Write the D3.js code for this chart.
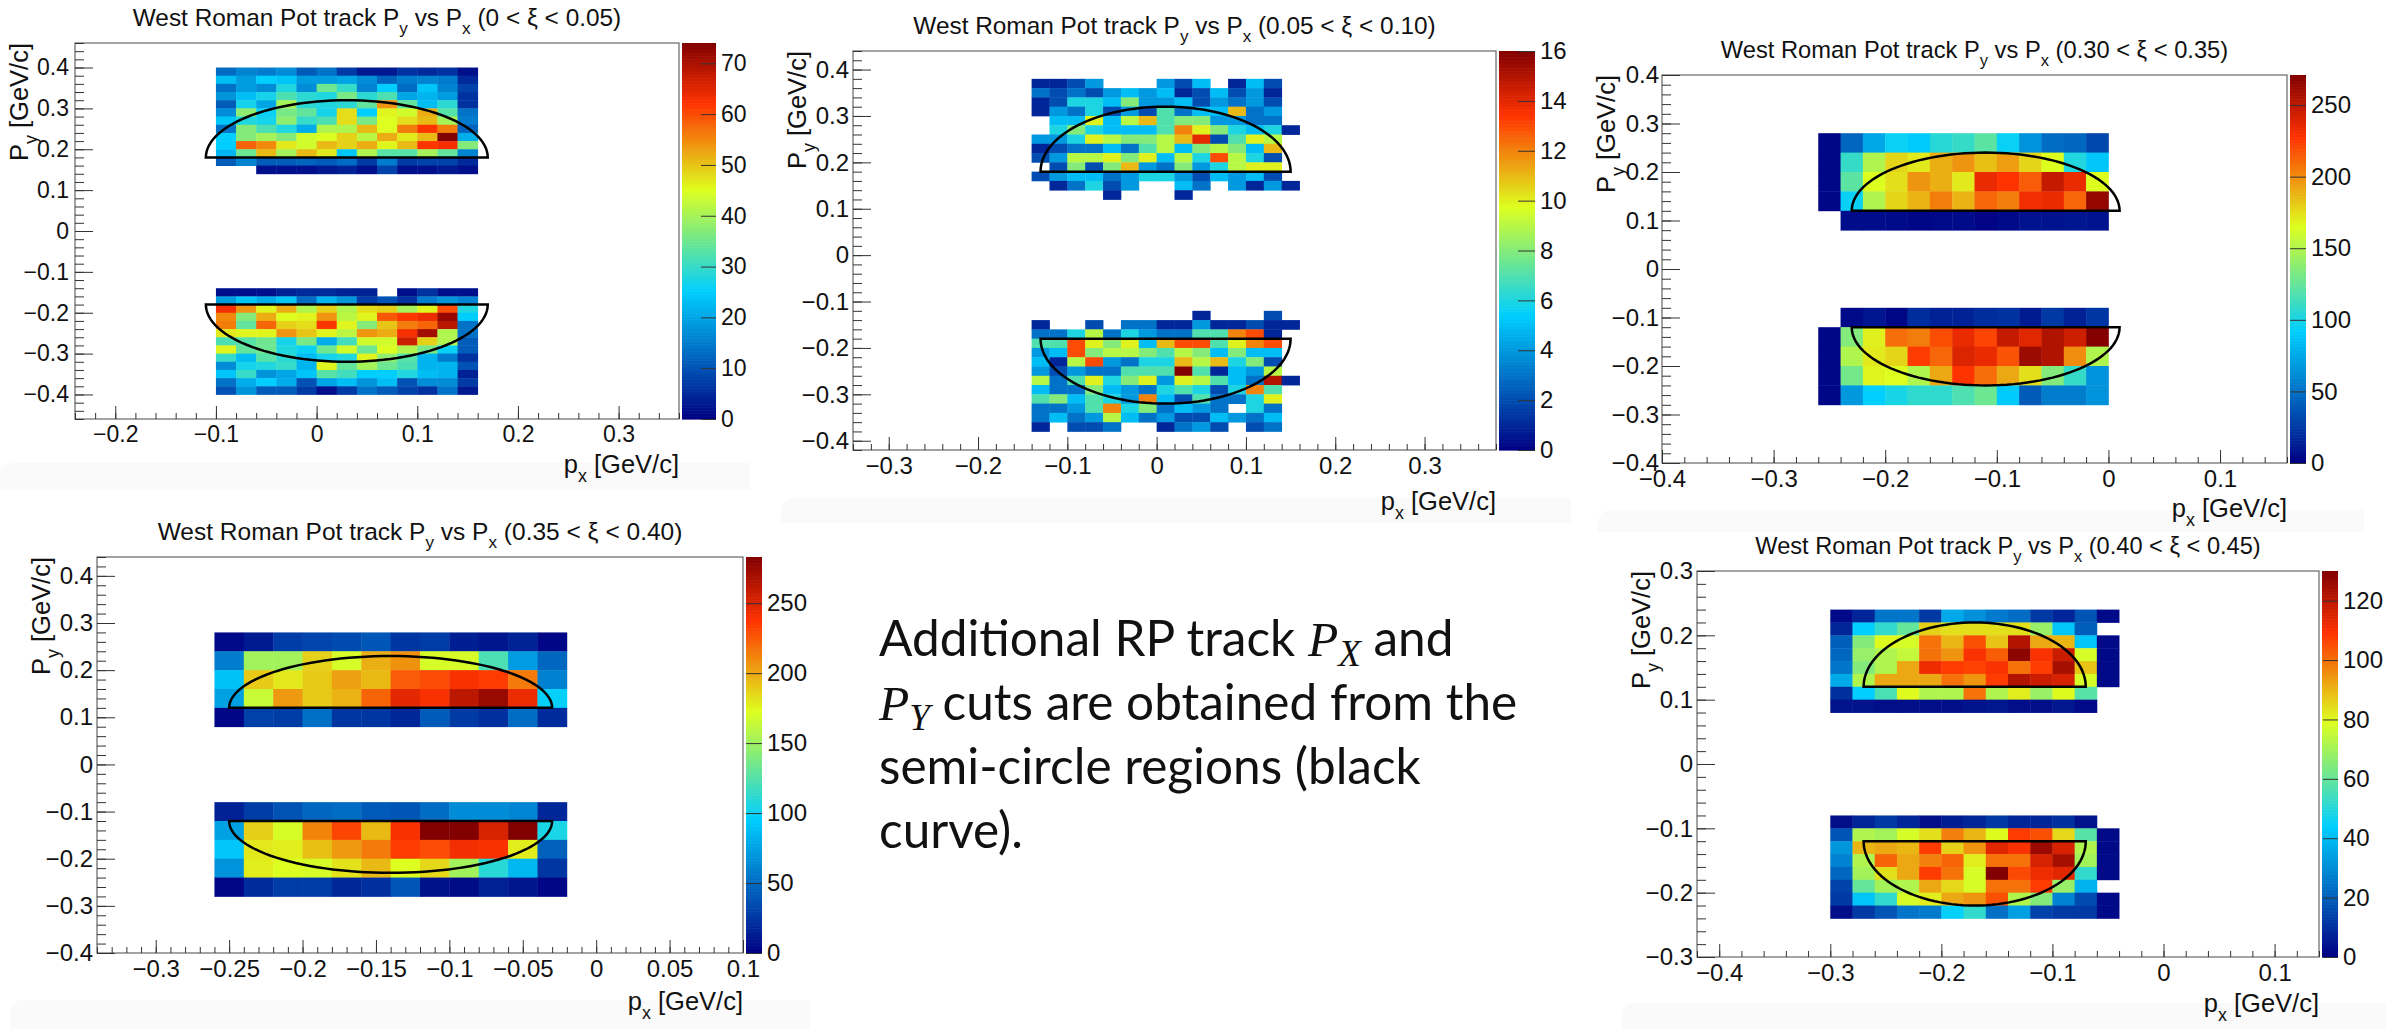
<!DOCTYPE html>
<html lang="en">
<head>
  <meta charset="UTF-8">
  <script src="https://d3js.org/d3.v7.min.js"></script>
  <title>West Roman Pot track Py vs Px</title>
  <style>
    html, body { margin:0; padding:0; background:#fff; }
    svg { display:block; }
    text { font-family:"Liberation Sans", sans-serif; fill:#111; }
    .domain { stroke:none; }
    .tick line { stroke:#333; stroke-width:1; }
  </style>
</head>
<body>
  <svg id="page" width="2407" height="1029"></svg>
  <script>
    // bin contents, top row first. null = empty bin
    const p1Upper = [
      [13,16,15,17,11,14,7,3,3,6,5,6,2],
      [23,19,25,24,19,19,20,17,12,15,16,15,5],
      [14,19,17,28,17,35,30,16,25,13,24,16,8],
      [18,23,27,32,29,28,36,29,32,20,22,19,6],
      [11,27,20,40,29,28,29,34,54,34,23,29,6],
      [17,38,26,36,34,27,48,25,46,44,52,33,14],
      [24,28,27,38,30,32,48,36,45,48,51,40,15],
      [14,37,32,28,21,41,41,51,45,56,62,56,12],
      [25,37,40,37,44,45,49,42,52,47,51,74,21],
      [25,58,55,47,44,51,49,52,46,51,62,63,37],
      [22,35,51,40,51,47,24,41,33,33,40,34,16],
      [11,16,11,11,12,11,13,7,15,7,8,8,5],
      [null,null,2,2,2,3,4,2,8,2,2,3,2]
    ];
    const p1Lower = [
      [2,2,2,4,5,5,4,4,null,2,6,2,2],
      [19,24,21,24,13,22,18,7,10,6,15,18,16],
      [63,54,46,52,41,49,41,48,49,40,46,60,28],
      [55,37,52,45,46,54,42,46,59,62,64,72,25],
      [56,34,58,49,48,62,46,37,50,56,58,69,14],
      [47,46,46,54,50,46,42,54,52,63,71,41,14],
      [32,33,35,27,36,21,31,44,44,67,49,41,11],
      [46,34,35,28,26,35,44,35,45,41,36,26,11],
      [30,23,33,29,23,27,28,46,38,33,22,15,6],
      [17,27,28,30,22,46,34,40,35,32,22,22,10],
      [24,30,18,20,24,33,31,25,25,28,23,22,4],
      [14,21,25,21,10,20,23,18,23,10,17,17,7],
      [10,18,11,11,7,2,7,14,11,8,6,14,3]
    ];
    const p2Upper = [
      [1,1,2,4,null,null,null,4,2,5,null,1,5,2,null],
      [3,2,3,2,4,5,4,5,1,2,5,2,4,1,null],
      [1,2,6,6,5,8,4,4,5,2,4,3,4,2,null],
      [1,4,3,6,2,4,2,7,3,5,5,11,3,4,null],
      [null,5,5,10,5,9,11,7,8,8,4,4,3,3,null],
      [null,6,8,6,5,5,5,7,12,10,8,6,5,6,1],
      [4,4,6,10,9,8,8,9,11,14,2,7,10,9,null],
      [1,2,3,3,5,3,7,9,5,8,9,8,5,11,null],
      [2,4,9,9,10,8,10,5,9,6,13,9,6,2,null],
      [null,2,8,2,8,11,4,3,8,4,6,9,10,10,null],
      [2,4,5,5,3,4,6,6,4,2,5,4,5,2,null],
      [null,1,3,6,2,4,null,null,5,3,null,4,1,4,1],
      [null,null,null,null,1,null,null,null,1,null,null,null,null,null,null]
    ];
    const p2Lower = [
      [null,null,null,null,null,null,null,null,null,1,null,null,null,2,null],
      [1,null,null,2,null,3,3,1,1,4,1,1,2,1,1],
      [3,3,6,9,3,6,4,3,3,7,7,12,13,1,null],
      [7,7,13,10,8,10,5,11,13,13,7,10,12,13,null],
      [4,5,13,8,9,9,8,7,9,8,5,8,5,5,null],
      [5,1,9,13,4,3,6,6,11,9,11,6,8,2,null],
      [4,2,4,3,3,7,7,7,16,7,1,5,4,9,null],
      [9,3,7,10,6,8,10,4,10,9,7,5,3,15,1],
      [5,3,3,8,5,4,3,6,7,6,2,6,12,7,null],
      [7,8,5,7,6,4,12,5,2,7,3,3,6,10,null],
      [3,3,4,7,12,6,8,3,5,4,3,null,6,3,null],
      [3,5,3,4,9,5,3,4,2,2,5,4,3,5,null],
      [1,null,2,2,3,null,null,1,3,4,2,null,2,3,null]
    ];
    const p3Upper = [
      [3,45,75,95,90,105,110,122,95,65,48,46,32],
      [3,110,150,178,172,190,198,185,195,178,165,103,88],
      [3,122,165,175,198,190,172,235,228,215,248,235,165],
      [3,95,150,178,188,205,188,212,205,232,235,212,265],
      [null,6,6,5,3,4,5,2,4,8,8,10,8]
    ];
    const p3Lower = [
      [null,4,10,3,20,15,15,20,22,12,25,15,24],
      [3,135,170,210,205,220,235,222,248,238,255,245,270],
      [3,150,172,178,225,212,240,235,218,262,255,200,150],
      [3,130,168,165,150,192,228,210,192,175,135,110,65],
      [3,68,92,100,108,108,118,128,90,40,55,55,65]
    ];
    const p4Upper = [
      [4,12,28,32,35,40,25,28,14,10,16,3],
      [58,152,152,187,170,198,207,170,170,122,72,48],
      [90,190,180,190,203,195,225,230,240,235,215,60],
      [75,165,205,190,197,222,248,240,262,275,245,98],
      [3,30,28,52,25,25,18,42,27,22,50,20]
    ];
    const p4Lower = [
      [15,28,38,48,50,42,40,50,65,65,62,18],
      [75,188,170,212,232,195,240,283,283,252,283,105],
      [92,180,178,193,205,215,235,230,242,240,178,45],
      [68,178,172,170,182,195,172,185,152,110,85,25],
      [3,20,28,28,18,22,40,8,5,15,10,3]
    ];
    const p5Upper = [
      [2,8,25,25,12,36,31,26,23,12,8,18,2],
      [8,44,52,60,86,84,84,84,84,68,42,20,null],
      [20,65,80,78,100,90,105,88,122,92,90,42,2],
      [22,68,72,75,100,95,110,103,128,110,118,78,2],
      [25,65,72,92,112,108,107,110,100,108,124,88,2],
      [36,72,92,92,92,100,95,108,122,118,116,78,2],
      [10,44,56,80,72,72,100,72,82,68,80,58,null],
      [4,4,3,3,3,3,4,5,3,3,5,2,null]
    ];
    const p5Lower = [
      [3,8,12,8,3,6,8,12,8,8,10,4,null],
      [18,72,70,78,84,98,90,80,108,105,85,58,2],
      [32,90,92,90,108,86,95,114,110,126,116,72,2],
      [28,72,102,92,98,102,82,100,100,116,124,70,2],
      [22,70,84,92,108,100,78,130,106,112,114,52,2],
      [14,60,70,72,92,85,78,100,100,108,68,38,null],
      [12,42,52,78,82,92,95,105,72,65,28,16,2],
      [3,12,18,25,26,45,52,24,34,14,12,12,2]
    ];

    const xiRanges = ["0 < ξ < 0.05", "0.05 < ξ < 0.10", "0.30 < ξ < 0.35", "0.35 < ξ < 0.40", "0.40 < ξ < 0.45"];
    const xDomains = [[-0.24,0.36],[-0.34,0.38],[-0.4,0.16],[-0.34,0.1],[-0.42,0.14]];
    const yDomains = [[-0.46,0.46],[-0.42,0.44],[-0.4,0.4],[-0.4,0.44],[-0.3,0.3]];
    const zMaxes = [74,16,271,283,130];
    const xMajors = [
      [-0.2,-0.1,0,0.1,0.2,0.3],
      [-0.3,-0.2,-0.1,0,0.1,0.2,0.3],
      [-0.4,-0.3,-0.2,-0.1,0,0.1],
      [-0.3,-0.25,-0.2,-0.15,-0.1,-0.05,0,0.05,0.1],
      [-0.4,-0.3,-0.2,-0.1,0,0.1]
    ];
    const yMajors = [
      [-0.4,-0.3,-0.2,-0.1,0,0.1,0.2,0.3,0.4],
      [-0.4,-0.3,-0.2,-0.1,0,0.1,0.2,0.3,0.4],
      [-0.4,-0.3,-0.2,-0.1,0,0.1,0.2,0.3,0.4],
      [-0.4,-0.3,-0.2,-0.1,0,0.1,0.2,0.3,0.4],
      [-0.3,-0.2,-0.1,0,0.1,0.2,0.3]
    ];
    const zMajors = [
      [0,10,20,30,40,50,60,70],
      [0,2,4,6,8,10,12,14,16],
      [0,50,100,150,200,250],
      [0,50,100,150,200,250],
      [0,20,40,60,80,100,120]
    ];
    const xMinorSteps = [0.02,0.02,0.02,0.01,0.02];
    // bin layout: left edge, width, upper top edge, lower top edge, y width
    const xBinStart = [-0.1,-0.14,-0.26,-0.26,-0.3];
    const yBinWidth = [0.02,0.02,0.04,0.04,0.02];
    const upperTop = [0.4,0.38,0.28,0.28,0.24];
    const lowerTop = [-0.14,-0.12,-0.08,-0.08,-0.08];
    const binWidth = 0.02;
    // cut semicircles
    const cutCenter = [0.03,0.01,-0.11,-0.14,-0.17];
    const cutRadius = [0.14,0.14,0.12,0.11,0.10];
    const cutBase = [0.18,0.18,0.12,0.12,0.12];
    const cutHeight = [0.14,0.14,0.12,0.11,0.10];

    const upperData = [p1Upper,p2Upper,p3Upper,p4Upper,p5Upper];
    const lowerData = [p1Lower,p2Lower,p3Lower,p4Lower,p5Lower];

    // ROOT rainbow palette
    const paletteStops = [0,0.34,0.61,0.84,1];
    const paletteColors = ["rgb(0,0,130)","rgb(0,207,255)","rgb(222,255,31)","rgb(255,51,0)","rgb(130,0,0)"];

    // frame boxes in page pixels
    const frames = [
      {l:75, r:679, t:43, b:419, fs:23, tfs:24.4, xl:54, bar:34, zt:15, pad:6},
      {l:853, r:1496, t:51, b:450, fs:24, tfs:24.4, xl:60, bar:36, zt:17, pad:4},
      {l:1662, r:2287, t:75, b:463, fs:24, tfs:23.7, xl:54, bar:16, zt:16, pad:3},
      {l:97, r:743, t:557, b:953, fs:24, tfs:24.5, xl:57, bar:16, zt:16, pad:4},
      {l:1697, r:2319, t:571, b:957, fs:24, tfs:23.6, xl:55, bar:16, zt:15, pad:4}
    ];

    const svg = d3.select("#page");

    // faint slide shadows left under each plot in the original
    const shadows = [
      {x:0, y:463, w:750, h:27},
      {x:781, y:498, w:790, h:25},
      {x:1598, y:510, w:766, h:22},
      {x:10, y:1000, w:800, h:29},
      {x:1622, y:1003, w:764, h:26}
    ];
    svg.selectAll("path.shadow").data(shadows).enter().append("path")
      .attr("class","shadow")
      .attr("d", d => `M${d.x},${d.y+d.h}V${d.y+14}Q${d.x},${d.y} ${d.x+14},${d.y}H${d.x+d.w}V${d.y+d.h}Z`)
      .attr("fill","#fafafa");

    function subText(sel, parts, fs) {
      // parts: [text, isSub]
      let wasSub = false;
      parts.forEach(([t, sub]) => {
        const dy = sub ? 0.34*fs : (wasSub ? -0.34*fs : 0);
        sel.append("tspan")
          .attr("dy", dy)
          .attr("font-size", sub ? fs*0.7 : fs)
          .text(t);
        wasSub = sub;
      });
    }

    function minorTicks(domain, step) {
      const first = Math.ceil(domain[0]/step - 1e-6);
      const last = Math.floor(domain[1]/step + 1e-6);
      return d3.range(first, last+1).map(i => +(i*step).toFixed(4));
    }

    const tickFmt = d3.format("~g");

    frames.forEach((f, k) => {
      const x = d3.scaleLinear().domain(xDomains[k]).range([f.l, f.r]);
      const y = d3.scaleLinear().domain(yDomains[k]).range([f.b, f.t]);
      const z = d3.scaleLinear().domain(paletteStops.map(s => s*zMaxes[k])).range(paletteColors);
      const g = svg.append("g");

      // bins
      [[upperData[k], upperTop[k]], [lowerData[k], lowerTop[k]]].forEach(([rows, top]) => {
        const cells = rows.flatMap((row, j) => row.map((v, i) => ({v, i, j})));
        g.append("g").selectAll("rect")
          .data(cells.filter(d => d.v !== null))
          .enter().append("rect")
          .attr("x", d => x(xBinStart[k] + d.i*binWidth))
          .attr("width", x(binWidth) - x(0) + 0.4)
          .attr("y", d => y(top - d.j*yBinWidth[k]))
          .attr("height", y(0) - y(yBinWidth[k]) + 0.4)
          .attr("fill", d => z(d.v));
      });

      // frame
      g.append("rect").attr("x",f.l).attr("y",f.t).attr("width",f.r-f.l).attr("height",f.b-f.t)
        .attr("fill","none").attr("stroke","#666").attr("stroke-width",1.2);

      // axes, ticks point inward as in ROOT
      const xMinor = d3.axisBottom(x).tickValues(minorTicks(xDomains[k], xMinorSteps[k])).tickSize(-6).tickFormat("");
      const xMajor = d3.axisBottom(x).tickValues(xMajors[k]).tickSize(-13).tickPadding(7).tickFormat(tickFmt);
      g.append("g").attr("transform",`translate(0,${f.b})`).call(xMinor).selectAll("text").remove();
      g.append("g").attr("transform",`translate(0,${f.b})`).call(xMajor)
        .selectAll("text").attr("font-size",f.fs).attr("font-family",null);

      const yMinor = d3.axisLeft(y).tickValues(minorTicks(yDomains[k], 0.02)).tickSize(-9).tickFormat("");
      const yMajor = d3.axisLeft(y).tickValues(yMajors[k]).tickSize(-18).tickPadding(f.pad).tickFormat(tickFmt);
      g.append("g").attr("transform",`translate(${f.l},0)`).call(yMinor).selectAll("text").remove();
      g.append("g").attr("transform",`translate(${f.l},0)`).call(yMajor)
        .selectAll("text").attr("font-size",f.fs).attr("font-family",null);

      // colour bar
      const barL = f.r + 3, barR = barL + f.bar;
      const zAxisScale = d3.scaleLinear().domain([0, zMaxes[k]]).range([f.b, f.t]);
      const levels = d3.range(0, 256).map(i => i/256*zMaxes[k]);
      g.append("g").selectAll("rect").data(levels).enter().append("rect")
        .attr("x", barL).attr("width", barR-barL)
        .attr("y", d => zAxisScale(d + zMaxes[k]/256))
        .attr("height", (f.b-f.t)/256 + 0.6)
        .attr("fill", d => z(d + zMaxes[k]/512));
      g.append("g").attr("transform",`translate(${barR},0)`)
        .call(d3.axisRight(zAxisScale).tickValues(zMajors[k]).tickSize(-f.zt).tickPadding(5).tickFormat(d3.format("d")))
        .selectAll("text").attr("font-size",f.fs).attr("font-family",null);

      // cut curves
      const curve = d3.line().x(d => x(d[0])).y(d => y(d[1]));
      const angles = d3.range(0, 181, 3).map(a => a*Math.PI/180);
      [1,-1].forEach(sign => {
        const pts = angles.map(a => [cutCenter[k] + cutRadius[k]*Math.cos(a),
                                     sign*(cutBase[k] + cutHeight[k]*Math.sin(a))]);
        g.append("path").attr("d", curve(pts) + "Z")
          .attr("fill","none").attr("stroke","#000").attr("stroke-width",2.5);
      });

      // title and axis titles
      const title = g.append("text").attr("x",(f.l+f.r)/2).attr("y",f.t-17).attr("text-anchor","middle");
      subText(title, [["West Roman Pot track P",false],["y",true],[" vs P",false],["x",true],[` (${xiRanges[k]})`,false]], f.tfs);

      const xLabel = g.append("text").attr("x",f.r).attr("y",f.b+f.xl).attr("text-anchor","end");
      subText(xLabel, [["p",false],["x",true],[" [GeV/c]",false]], 25.5);

      const yLabel = g.append("text").attr("text-anchor","end")
        .attr("transform",`translate(${f.l-47},${f.t}) rotate(-90)`);
      subText(yLabel, [["P",false],["y",true],[" [GeV/c]",false]], 25.5);
    });

    // note in the middle of the slide
    const noteLines = [
      [["Additional RP track ","t"],["P","i"],["X","s"],[" and","t"]],
      [["P","i"],["Y","s"],[" cuts are obtained from the","t"]],
      [["semi-circle regions (black","t"]],
      [["curve).","t"]]
    ];
    const noteFs = 49.5;
    noteLines.forEach((line, n) => {
      const t = svg.append("text").attr("x",879).attr("y",656 + n*64);
      let wasSub = false;
      line.forEach(([s, kind]) => {
        const sub = kind === "s";
        const ts = t.append("tspan")
          .attr("dy", sub ? 10 : (wasSub ? -10 : 0))
          .attr("font-size", sub ? noteFs*0.75 : noteFs)
          .text(s);
        if (kind === "t") ts.style("font-family","Lato, sans-serif");
        else ts.style("font-family","'Liberation Serif', serif").style("font-style","italic");
        wasSub = sub;
      });
    });
  </script>
</body>
</html>
